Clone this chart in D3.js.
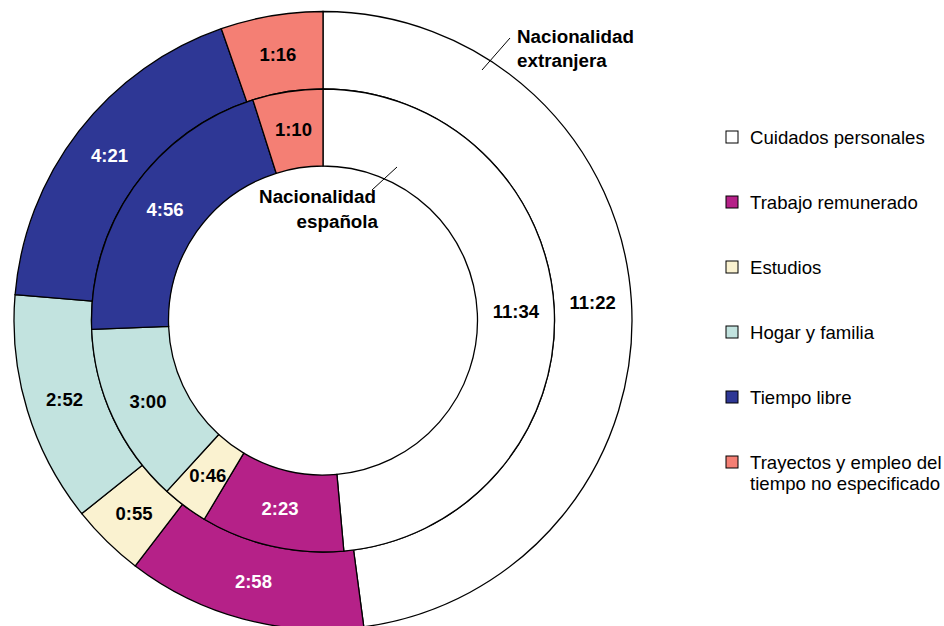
<!DOCTYPE html>
<html>
  <head>
  <title>Uso del tiempo por nacionalidad</title>
  </head>
  <body>

  <svg id="svg" width="944" height="626"></svg>

  <script src="https://d3js.org/d3.v7.min.js"></script>
  <script>
        // actividades, en el orden de las agujas del reloj desde arriba
        const categories = ['Cuidados personales', 'Trabajo remunerado', 'Estudios',
            'Hogar y familia', 'Tiempo libre', 'Trayectos y empleo del tiempo no especificado']
        const legendLines = [['Cuidados personales'], ['Trabajo remunerado'], ['Estudios'],
            ['Hogar y familia'], ['Tiempo libre'], ['Trayectos y empleo del', 'tiempo no especificado']]
        const colors = ['#ffffff', '#b52188', '#faf2d0', '#c2e3df', '#2e3795', '#f47f74']
        const labelColors = ['#000', '#fff', '#000', '#000', '#fff', '#000']

        const espanola = ['11:34', '2:23', '0:46', '3:00', '4:56', '1:10']
        const extranjera = ['11:22', '2:58', '0:55', '2:52', '4:21', '1:16']

        function toMinutes(s) {
            const p = s.split(':')
            return +p[0] * 60 + +p[1]
        }

        const svg = d3.select('#svg')
        const cx = 323, cy = 320.5
        const g = svg.append('g').attr('transform', `translate(${cx},${cy})`)

        const pie = d3.pie()
            .sort(null)
            .value(d => toMinutes(d))

        function drawRing(values, r0, r1) {
            const arc = d3.arc().innerRadius(r0).outerRadius(r1)
            const arcs = pie(values)
            g.append('g').selectAll('path')
                .data(arcs)
                .join('path')
                .attr('d', arc)
                .attr('fill', (d, i) => colors[i])
                .attr('stroke', '#000')
                .attr('stroke-width', 1.3)
            g.append('g').selectAll('text')
                .data(arcs)
                .join('text')
                .attr('transform', d => `translate(${arc.centroid(d)})`)
                .attr('text-anchor', 'middle')
                .attr('dy', '0.36em')
                .attr('font-family', 'Liberation Sans, Arial, sans-serif')
                .attr('font-weight', 'bold')
                .attr('font-size', 18.5)
                .attr('fill', (d, i) => labelColors[i])
                .text(d => d.data)
        }

        drawRing(extranjera, 231.5, 309)
        drawRing(espanola, 154.5, 231.5)

        // anotaciones de los anillos
        const ann = svg.append('g')
            .attr('font-family', 'Liberation Sans, Arial, sans-serif')
            .attr('font-weight', 'bold')
            .attr('font-size', 18.8)
        ann.append('line')
            .attr('x1', 482).attr('y1', 70).attr('x2', 510).attr('y2', 38)
            .attr('stroke', '#000').attr('stroke-width', 1)
        ann.append('text').attr('x', 517).attr('y', 43).text('Nacionalidad')
        ann.append('text').attr('x', 517).attr('y', 67).text('extranjera')
        ann.append('line')
            .attr('x1', 372).attr('y1', 190).attr('x2', 397).attr('y2', 167)
            .attr('stroke', '#000').attr('stroke-width', 1)
        ann.append('text').attr('x', 376).attr('y', 203).attr('text-anchor', 'end').text('Nacionalidad')
        ann.append('text').attr('x', 378).attr('y', 228).attr('text-anchor', 'end').text('española')

        // leyenda
        const legend = svg.append('g')
            .attr('font-family', 'Liberation Sans, Arial, sans-serif')
            .attr('font-size', 18.6)
        const rows = legend.selectAll('g')
            .data(categories)
            .join('g')
            .attr('transform', (d, i) => `translate(726,${137 + i * 65})`)
        rows.append('rect')
            .attr('x', 0).attr('y', -6).attr('width', 12).attr('height', 12)
            .attr('fill', (d, i) => colors[i])
            .attr('stroke', '#000').attr('stroke-width', 1)
        rows.append('text')
            .attr('x', 24)
            .selectAll('tspan')
            .data((d, i) => legendLines[i])
            .join('tspan')
            .attr('x', 24)
            .attr('y', (d, j) => 6.5 + j * 21)
            .text(d => d)
  </script>
  <style>
    body, html {
      margin: 0;
      padding: 0;
      background: #fff;
    }
    #svg {
      display: block;
    }
  </style>
  </body>
</html>
